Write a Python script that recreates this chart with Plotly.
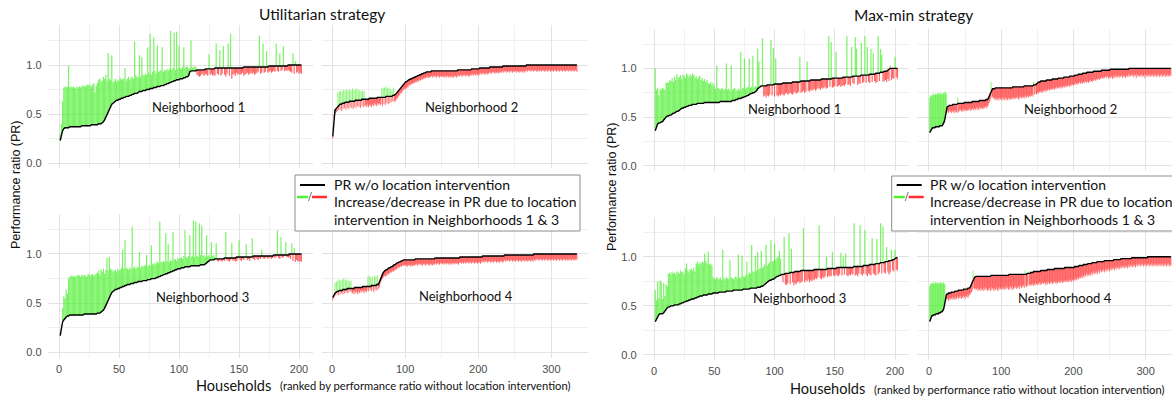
import plotly.graph_objects as go

W, H = 1172, 398

# ---------------- data: performance ratio (x100) ----------------
# Utilitarian strategy
U1_BASE = [23,30,33,35,36,36,36,36,37,37,
 37,37,37,37,37,37,37,37,38,38,
 38,38,38,38,38,38,39,39,39,39,
 39,39,40,40,40,41,42,44,47,50,
 52,55,58,60,61,62,63,64,64,65,
 65,66,66,67,67,68,68,68,69,69,
 70,70,71,71,71,72,73,73,73,74,
 74,74,75,75,75,76,76,76,77,77,
 77,78,78,78,79,79,79,80,80,81,
 81,82,82,83,83,84,84,85,85,85,
 86,86,86,87,87,88,88,89,93,94,
 94,94,94,94,95,95,95,95,95,95,
 95,96,96,96,96,96,96,96,96,97,
 97,97,97,97,97,97,97,97,97,97,
 97,97,97,97,97,97,97,97,97,97,
 97,97,97,98,98,98,98,98,98,98,
 98,98,98,98,98,98,98,98,98,98,
 98,98,98,98,99,99,99,99,99,99,
 99,99,99,99,99,99,99,99,99,99,
 100,100,100,100,100,100,100,100,100,100,
 100,100]
U1_NEW = [30,40,63,77,78,77,78,99,77,78,
 77,78,77,76,78,77,78,77,79,78,
 79,78,79,80,79,80,78,80,81,72,
 79,82,85,86,83,84,88,86,90,84,
 112,86,85,110,82,84,86,83,85,84,
 87,85,86,86,97,84,86,88,85,87,
 88,86,124,90,88,87,110,88,108,90,
 89,91,90,118,92,132,90,93,128,94,
 91,120,93,94,95,118,93,95,94,96,
 94,96,135,95,97,133,95,134,96,120,
 97,96,98,118,97,99,98,96,97,125,
 98,97,99,98,90,89,88,89,91,90,
 89,91,90,89,111,90,91,89,90,89,
 122,91,90,115,89,91,119,90,88,91,
 122,89,132,86,90,91,89,92,90,91,
 90,91,92,89,90,91,92,90,91,92,
 91,92,90,91,92,93,130,91,92,122,
 92,93,114,92,93,94,92,93,94,93,
 122,94,93,112,94,95,119,94,95,94,
 95,94,93,92,112,91,104,92,93,91,
 92,91]
U2_BASE = [27,40,50,54,55,56,57,58,59,59,
 60,60,60,61,61,61,61,62,62,62,
 62,62,62,63,63,63,63,63,63,63,
 63,64,64,64,64,64,64,64,64,64,
 65,65,65,65,65,65,65,65,65,65,
 66,66,66,66,66,66,66,66,66,66,
 66,67,67,67,67,67,67,67,67,67,
 67,67,67,68,68,68,68,68,68,68,
 68,68,69,69,69,70,70,71,72,73,
 74,75,76,77,78,79,80,81,82,82,
 83,83,84,84,85,85,86,86,86,87,
 87,87,88,88,88,89,89,89,90,90,
 90,91,91,91,92,92,92,92,93,93,
 93,93,93,93,93,94,94,94,94,94,
 94,94,94,94,94,94,94,94,94,94,
 94,94,94,94,94,94,94,94,94,94,
 94,94,94,94,94,94,94,94,94,94,
 94,95,95,95,95,95,95,95,95,95,
 95,95,95,95,95,95,95,95,95,95,
 96,96,96,96,96,96,96,96,96,96,
 96,97,97,97,97,97,97,97,97,97,
 97,97,97,97,97,98,98,98,98,98,
 98,98,98,98,98,98,98,98,98,98,
 98,98,98,99,99,99,99,99,99,99,
 99,99,99,99,99,99,99,99,99,99,
 99,99,99,99,99,99,99,99,99,99,
 99,99,99,99,99,100,100,100,100,100,
 100,100,100,100,100,100,100,100,100,100,
 100,100,100,100,100,100,100,100,100,100,
 100,100,100,100,100,100,100,100,100,100,
 100,100,100,100,100,100,100,100,100,100,
 100,100,100,100,100,100,100,100,100,100,
 100,100,100,100,100,100,100,100,100,100,
 100,100,100,100,100]
U2_NEW = [25,37,46,50,51,52,53,72,54,73,
 54,74,53,73,55,75,56,74,54,75,
 56,74,55,75,57,74,56,76,55,74,
 57,75,56,76,58,74,57,75,56,73,
 58,74,57,73,58,59,57,60,58,57,
 59,60,58,57,60,59,58,61,59,60,
 58,61,59,60,61,59,60,76,58,77,
 60,77,59,78,61,76,60,77,61,75,
 62,74,63,77,62,64,63,65,66,67,
 68,69,70,72,71,73,74,75,76,75,
 77,76,78,77,79,80,79,81,80,81,
 82,81,82,83,82,83,84,83,84,85,
 84,85,86,85,86,87,86,87,88,87,
 88,87,88,87,88,89,88,87,89,88,
 89,88,87,89,88,89,87,88,89,88,
 88,89,87,88,89,87,88,89,88,87,
 89,88,87,89,88,87,89,88,89,87,
 88,89,90,88,89,90,89,88,90,89,
 90,89,88,90,89,90,88,89,90,89,
 90,91,89,90,91,89,90,91,90,89,
 91,90,92,91,90,92,91,92,90,91,
 92,91,90,92,91,93,92,91,93,92,
 93,92,91,93,92,93,91,92,93,92,
 93,92,94,93,92,94,93,94,92,93,
 94,93,92,94,93,94,92,93,94,93,
 94,92,93,94,93,92,94,93,94,92,
 93,94,92,93,94,95,93,94,95,94,
 95,93,94,95,94,93,95,94,95,93,
 94,95,93,94,95,94,93,95,94,95,
 93,94,95,94,93,95,94,95,93,94,
 95,94,93,95,94,95,93,94,95,94,
 93,95,94,95,93,94,95,94,93,95,
 94,95,93,94,95,94,93,95,94,95,
 93,94,95,94,93]
U3_BASE = [17,27,31,33,35,36,37,37,38,38,
 38,38,38,38,38,38,38,38,38,38,
 39,39,39,39,39,39,39,39,39,39,
 39,40,40,40,41,42,43,45,48,51,
 54,57,59,61,62,63,64,64,65,65,
 66,66,67,67,68,68,69,69,69,70,
 70,70,71,71,71,72,72,72,72,73,
 73,73,73,74,74,74,75,75,75,75,
 76,76,77,77,78,78,79,79,80,80,
 81,81,82,82,83,83,84,84,85,85,
 85,86,86,86,87,87,87,87,87,88,
 88,88,88,88,88,88,88,89,89,89,
 89,90,91,92,93,94,94,94,94,95,
 95,95,95,95,95,95,95,96,96,96,
 96,96,96,96,96,96,96,97,97,97,
 97,97,97,97,97,97,97,97,97,97,
 97,98,98,98,98,98,98,98,98,98,
 98,98,98,98,98,98,98,98,99,99,
 99,99,99,99,99,99,99,99,99,99,
 99,100,100,100,100,100,100,100,100,100,
 100,100]
U3_NEW = [18,28,45,57,55,64,60,75,77,78,
 78,77,78,77,78,79,78,77,79,78,
 79,78,77,79,80,78,79,80,78,79,
 80,81,83,79,84,82,85,80,84,96,
 83,97,85,84,82,83,84,82,85,83,
 84,86,104,85,114,86,85,84,86,85,
 128,86,87,85,86,87,102,86,88,87,
 88,89,99,87,89,88,109,90,89,91,
 90,92,91,133,92,91,93,92,121,93,
 110,92,94,93,122,94,95,93,96,95,
 96,97,95,98,124,97,96,98,119,97,
 98,134,97,133,98,97,131,99,129,98,
 99,97,119,98,99,97,112,98,99,97,
 111,93,92,94,93,92,94,93,122,94,
 93,92,94,111,93,94,92,93,95,114,
 94,93,95,94,96,110,94,95,93,96,
 116,95,94,96,95,94,96,95,104,96,
 95,96,97,95,96,97,95,96,97,96,
 97,124,96,95,117,96,97,98,112,97,
 96,97,95,111,93,106,92,94,93,92,
 93,92]
U4_BASE = [56,58,59,60,61,61,62,62,62,63,
 63,63,63,63,64,64,64,64,64,64,
 65,65,65,65,65,65,65,65,65,65,
 66,66,66,66,66,66,66,66,66,66,
 66,67,67,67,67,67,67,67,67,67,
 67,67,67,68,68,68,68,68,68,68,
 69,69,69,70,72,75,77,79,80,81,
 82,83,83,84,84,85,85,86,86,87,
 87,87,88,88,89,89,90,90,91,91,
 92,92,92,93,93,93,94,94,94,94,
 94,94,94,94,94,94,94,94,94,94,
 94,94,94,95,95,95,95,95,95,95,
 95,95,95,95,95,95,95,95,95,95,
 95,95,95,95,95,95,95,95,95,95,
 96,96,96,96,96,96,96,96,96,96,
 96,96,96,96,96,96,96,96,96,96,
 96,96,96,96,96,96,96,96,96,96,
 96,96,96,96,97,97,97,97,97,97,
 97,97,97,97,97,97,97,97,97,97,
 97,97,97,97,97,97,97,97,97,97,
 97,97,97,97,97,98,98,98,98,98,
 98,98,98,98,98,98,98,98,98,98,
 98,98,98,98,98,98,98,98,98,98,
 98,98,98,98,98,99,99,99,99,99,
 99,99,99,99,99,99,99,99,99,99,
 99,99,99,99,99,99,99,99,99,99,
 99,99,99,99,99,99,99,99,99,99,
 99,99,99,99,99,100,100,100,100,100,
 100,100,100,100,100,100,100,100,100,100,
 100,100,100,100,100,100,100,100,100,100,
 100,100,100,100,100,100,100,100,100,100,
 100,100,100,100,100,100,100,100,100,100,
 100,100,100,100,100,100,100,100,100,100,
 100,100,100,100,100]
U4_NEW = [53,55,56,71,58,72,59,73,58,74,
 59,73,60,74,59,75,60,74,61,73,
 60,74,61,72,62,73,61,60,62,59,
 62,60,63,61,59,62,61,60,63,62,
 61,63,62,60,63,62,61,63,77,62,
 78,63,76,62,77,64,61,78,63,77,
 63,78,64,65,67,70,72,74,75,76,
 77,78,77,79,78,80,79,81,80,82,
 81,82,83,82,84,83,85,84,86,85,
 87,86,87,88,87,88,89,88,89,88,
 89,88,87,89,88,89,88,87,89,88,
 88,89,88,89,90,89,88,90,89,90,
 89,90,88,89,90,89,90,88,90,89,
 90,89,88,90,89,90,88,89,90,89,
 90,91,89,90,91,90,89,91,90,91,
 90,89,91,90,91,89,90,91,90,89,
 91,90,89,91,90,91,89,90,91,90,
 91,90,89,91,92,91,90,92,91,90,
 92,91,90,92,91,92,90,91,92,91,
 90,92,91,92,90,91,92,91,90,92,
 91,92,90,91,92,93,92,91,93,92,
 93,92,91,93,92,93,91,92,93,92,
 91,93,92,93,91,92,93,92,91,93,
 92,93,92,91,93,94,93,92,94,93,
 94,93,92,94,93,94,92,93,94,93,
 92,94,93,94,92,93,94,93,92,94,
 93,94,92,93,94,93,92,94,93,94,
 92,93,94,93,92,95,94,93,95,94,
 95,94,93,95,94,95,93,94,95,94,
 93,95,94,95,93,94,95,94,93,95,
 94,95,93,94,95,94,93,95,94,95,
 93,94,95,94,93,95,94,95,93,94,
 95,94,93,95,94,95,93,94,95,94,
 93,95,94,95,94]
# Max-min strategy
M1_BASE = [36,40,43,44,44,45,45,47,49,50,
 51,51,52,52,53,54,54,55,56,56,
 57,58,59,59,60,60,61,61,62,62,
 62,63,63,63,63,64,64,64,64,64,
 64,65,65,65,65,65,65,65,65,65,
 65,65,65,65,66,66,66,66,66,66,
 66,66,66,66,67,67,67,68,68,69,
 69,69,70,70,71,71,72,72,73,74,
 74,75,75,76,77,79,80,81,82,82,
 82,82,82,83,83,83,83,83,83,84,
 84,84,84,84,84,84,85,85,85,85,
 85,85,85,85,86,86,86,86,86,86,
 86,87,87,87,87,87,87,87,87,88,
 88,88,88,88,88,88,88,88,89,89,
 89,89,89,89,89,89,89,90,90,90,
 90,90,90,90,90,90,91,91,91,91,
 91,91,91,91,92,92,92,92,92,92,
 92,93,93,93,93,93,93,93,94,94,
 94,94,94,95,95,95,95,96,96,96,
 97,97,97,98,99,100,100,100,100,100,
 100,100]
M1_NEW = [100,78,80,72,79,78,80,79,78,85,
 86,85,88,87,90,86,92,88,94,90,
 91,93,89,94,92,90,95,93,91,94,
 92,95,93,90,92,89,91,93,88,90,
 87,89,86,88,85,84,86,83,85,82,
 79,103,80,79,78,80,79,78,79,105,
 78,79,77,103,78,79,80,78,77,79,
 78,117,79,80,110,79,80,81,110,80,
 81,113,80,82,81,120,107,82,81,131,
 71,72,70,72,71,73,129,72,121,71,
 110,72,71,73,72,74,73,72,74,75,
 73,74,75,74,73,75,76,74,75,76,
 112,75,76,77,75,76,107,77,76,78,
 77,78,79,77,78,80,79,78,80,79,
 80,81,79,80,133,81,127,80,81,82,
 117,81,82,83,81,82,83,82,84,133,
 83,84,82,122,85,84,132,120,83,85,
 84,126,85,86,133,85,122,86,85,120,
 86,115,87,85,86,133,87,120,114,86,
 87,88,86,89,87,103,88,90,89,112,
 91,89]
M2_BASE = [34,36,38,38,39,39,39,39,40,40,
 40,40,40,40,41,41,41,41,42,43,
 45,48,53,58,60,61,61,62,62,62,
 62,62,63,63,63,63,63,63,63,64,
 64,64,64,64,64,64,64,64,65,65,
 65,65,65,65,65,65,65,65,65,66,
 66,66,66,66,66,66,66,66,66,67,
 67,67,67,67,67,67,67,67,68,68,
 68,69,71,73,75,77,78,79,79,79,
 79,80,80,80,80,80,80,80,80,80,
 80,80,80,80,80,80,80,80,80,80,
 80,80,80,80,80,81,81,81,81,81,
 81,81,81,81,81,81,81,81,81,81,
 81,82,82,82,82,82,82,82,82,82,
 82,82,82,82,83,83,83,83,84,85,
 85,86,86,86,87,87,87,87,87,87,
 87,87,88,88,88,88,88,88,88,88,
 89,89,89,89,89,89,89,89,90,90,
 90,90,90,90,90,90,91,91,91,91,
 91,91,91,91,92,92,92,92,92,92,
 92,93,93,93,93,93,94,94,94,94,
 94,94,95,95,95,95,95,95,96,96,
 96,96,96,96,96,96,96,97,97,97,
 97,97,97,97,97,97,97,97,98,98,
 98,98,98,98,98,98,98,98,98,98,
 99,99,99,99,99,99,99,99,99,99,
 99,99,99,99,99,99,99,99,99,99,
 99,99,99,99,99,99,100,100,100,100,
 100,100,100,100,100,100,100,100,100,100,
 100,100,100,100,100,100,100,100,100,100,
 100,100,100,100,100,100,100,100,100,100,
 100,100,100,100,100,100,100,100,100,100,
 100,100,100,100,100,100,100,100,100,100,
 100,100,100,100,100]
M2_NEW = [70,72,71,73,72,74,73,72,74,73,
 74,73,75,74,73,75,74,73,74,75,
 74,76,75,74,55,56,54,57,55,56,
 54,57,55,56,54,57,55,56,54,70,
 55,57,56,58,56,57,55,58,57,56,
 58,57,56,58,57,59,56,58,57,59,
 58,57,59,58,57,60,58,59,57,60,
 59,58,60,59,58,60,59,61,60,59,
 61,62,64,66,68,86,70,71,69,70,
 68,69,67,70,68,69,67,70,68,69,
 67,70,68,69,67,70,68,69,67,70,
 68,69,68,70,68,69,70,68,70,69,
 70,69,71,68,70,69,71,70,69,71,
 70,71,69,72,70,71,72,70,71,72,
 71,72,73,71,86,73,85,74,73,75,
 74,75,76,75,77,76,75,77,76,78,
 77,76,78,77,79,78,77,79,78,79,
 78,80,79,78,80,79,81,80,79,81,
 80,81,79,82,80,81,82,80,82,81,
 82,81,83,82,81,83,82,84,83,82,
 84,83,85,84,83,85,84,86,85,84,
 86,85,84,86,85,87,86,85,87,86,
 85,87,86,88,87,86,88,87,89,88,
 87,89,88,90,89,88,90,89,91,90,
 89,91,90,92,91,90,92,91,89,91,
 90,92,91,89,92,90,91,93,90,92,
 91,93,90,92,91,93,92,90,93,91,
 92,90,93,91,92,94,91,93,92,94,
 92,93,91,94,92,93,90,94,92,93,
 91,93,92,94,91,93,92,94,90,93,
 92,94,91,93,92,94,91,93,92,94,
 91,93,92,94,91,93,92,94,91,93,
 92,94,91,93,92,94,91,93,92,94,
 91,93,92,94,92]
M3_BASE = [34,37,40,41,42,42,42,43,45,47,
 48,49,49,50,50,50,51,51,51,51,
 52,52,53,53,54,54,55,55,56,56,
 57,57,57,58,58,59,59,60,60,60,
 61,61,61,61,62,62,62,62,63,63,
 63,63,63,64,64,64,64,64,64,65,
 65,65,65,65,65,66,66,66,66,66,
 66,66,66,67,67,67,67,67,67,68,
 68,68,68,68,68,69,69,69,70,70,
 71,72,73,74,75,76,76,77,77,78,
 79,80,80,81,81,82,82,82,83,83,
 83,83,84,84,84,84,85,85,85,85,
 85,86,86,86,86,86,86,86,86,86,
 86,86,87,87,87,87,87,87,87,87,
 87,87,87,88,88,88,88,88,88,88,
 88,89,89,89,89,89,89,89,89,89,
 89,89,89,89,89,90,90,90,90,90,
 90,90,90,91,91,91,91,91,92,92,
 92,92,92,93,93,93,93,94,94,94,
 94,95,95,95,96,96,96,97,97,98,
 99,99]
M3_NEW = [66,56,75,58,76,74,57,73,60,72,
 70,83,84,82,85,83,84,82,85,84,
 83,86,84,85,82,88,93,86,84,87,
 88,86,89,85,93,95,92,94,93,95,
 94,103,96,93,105,92,93,91,79,78,
 77,79,78,77,79,76,107,78,77,79,
 78,77,97,79,78,77,79,80,78,102,
 79,78,101,80,79,81,95,82,84,83,
 112,85,84,101,86,105,87,88,106,89,
 90,92,112,91,93,94,117,95,96,113,
 97,99,100,106,98,82,74,120,72,71,
 73,124,72,108,74,71,73,72,74,75,
 73,74,75,129,74,76,75,77,74,76,
 75,77,76,78,77,79,132,78,77,79,
 78,80,100,79,81,80,80,105,81,80,
 82,81,80,82,104,81,100,82,103,81,
 80,82,81,83,82,134,81,82,80,83,
 132,82,81,83,127,82,80,83,82,81,
 119,83,82,81,118,82,84,134,83,131,
 84,83,110,85,82,84,107,86,85,107,
 87,86]
M4_BASE = [34,37,39,40,40,41,41,41,41,42,
 42,42,42,43,43,43,44,44,45,46,
 49,54,59,61,62,62,63,63,63,63,
 64,64,64,64,64,65,65,65,65,65,
 66,66,66,66,66,66,66,67,67,67,
 67,67,67,68,68,68,69,70,72,74,
 75,77,79,80,80,80,80,80,80,80,
 80,80,80,80,80,80,80,80,80,80,
 80,80,80,80,80,81,81,81,81,81,
 81,81,81,81,81,81,81,81,81,81,
 81,81,81,81,81,81,81,81,81,81,
 82,82,82,82,82,82,82,82,82,82,
 82,82,82,82,82,82,82,82,82,82,
 82,82,82,82,82,83,83,83,83,83,
 84,84,84,84,85,85,85,85,85,85,
 85,85,85,85,86,86,86,86,86,86,
 86,86,86,87,87,87,87,87,87,87,
 87,87,87,88,88,88,88,88,88,88,
 88,88,88,88,88,88,88,89,89,89,
 89,89,89,89,89,89,89,89,89,89,
 89,90,90,90,90,90,90,91,91,91,
 91,91,91,92,92,92,92,92,92,93,
 93,93,93,93,93,94,94,94,94,94,
 94,94,95,95,95,95,95,95,95,95,
 95,95,96,96,96,96,96,96,96,96,
 96,96,96,96,96,97,97,97,97,97,
 97,97,97,97,97,98,98,98,98,98,
 98,98,98,98,98,98,98,98,98,98,
 99,99,99,99,99,99,99,99,99,99,
 99,99,99,99,99,99,99,99,99,99,
 99,99,100,100,100,100,100,100,100,100,
 100,100,100,100,100,100,100,100,100,100,
 100,100,100,100,100,100,100,100,100,100,
 100,100,100,100,100]
M4_NEW = [70,72,73,72,73,74,73,72,74,73,
 73,74,72,73,74,73,74,72,73,74,
 73,72,57,56,58,57,55,58,56,57,
 58,56,59,57,58,56,59,57,58,60,
 57,59,58,60,57,59,58,60,59,57,
 60,59,61,58,60,62,61,63,64,66,
 86,68,67,68,66,67,68,65,67,66,
 68,65,67,66,68,65,67,69,66,68,
 65,67,66,68,65,69,66,68,67,65,
 68,66,69,67,65,68,66,69,67,68,
 66,69,67,68,66,69,67,70,68,66,
 69,67,70,68,66,70,67,69,68,70,
 67,69,68,70,67,69,71,68,70,69,
 71,68,86,70,69,72,70,85,71,72,
 70,72,71,73,70,72,71,74,72,71,
 73,72,74,71,73,72,74,73,72,74,
 73,71,74,72,75,73,72,74,73,75,
 72,74,73,75,74,72,75,73,74,76,
 73,75,74,76,73,75,74,76,75,74,
 76,75,74,77,75,76,74,77,76,75,
 77,76,78,76,77,79,77,78,80,78,
 79,81,78,80,82,79,81,83,80,82,
 81,83,80,82,84,81,83,85,82,84,
 83,85,82,84,86,83,85,87,84,86,
 85,87,84,86,88,85,87,86,88,85,
 87,89,86,88,87,89,86,88,90,87,
 89,88,90,87,89,91,88,90,89,91,
 88,90,89,91,88,90,92,89,91,90,
 92,89,91,90,92,89,91,93,90,92,
 91,93,90,92,91,93,90,92,91,93,
 90,92,91,93,90,92,91,93,90,92,
 91,93,90,92,91,93,90,92,91,93,
 90,92,91,93,90,92,91,93,90,92,
 91,93,90,92,91]

STRATEGIES = ["Utilitarian strategy", "Max-min strategy"]
NEIGHBORHOODS = ["Neighborhood 1", "Neighborhood 2", "Neighborhood 3", "Neighborhood 4"]

# ---------------- layout geometry (pixels) ----------------
GREEN = "rgba(70,238,40,0.72)"
RED = "rgba(255,45,45,0.72)"
GRID = "#E2E2E2"
GRID_MINOR = "#F0F0F0"
TICK_FONT = dict(family="Liberation Sans, Arial", size=11, color="#4D4D4D")
TXT = "Lato, 'Open Sans', sans-serif"

COLS = {
    "UL": dict(px=(47.6, 312.8), rng=[-9.5, 211.5], dt=50, mdt=25, lw=1.2),
    "UR": dict(px=(321.8, 587.9), rng=[-14, 350], dt=100, mdt=50, lw=0.9),
    "ML": dict(px=(642.6, 908.9), rng=[-9.5, 211.5], dt=50, mdt=25, lw=1.2),
    "MR": dict(px=(917.0, 1172.0), rng=[-16.6, 336.5], dt=100, mdt=50, lw=0.9),
}
ROWS = {"UT": (25.3, 168.4), "UB": (214.1, 357.9), "MT": (28.9, 171.1), "MB": (216.9, 360.4)}
YR = [-0.055, 1.405]

PANELS = [
    (U1_BASE, U1_NEW, "UL", "UT", NEIGHBORHOODS[0], (198.3, 106.7)),
    (U2_BASE, U2_NEW, "UR", "UT", NEIGHBORHOODS[1], (471.7, 106.7)),
    (U3_BASE, U3_NEW, "UL", "UB", NEIGHBORHOODS[2], (202.7, 296.7)),
    (U4_BASE, U4_NEW, "UR", "UB", NEIGHBORHOODS[3], (466.0, 296.0)),
    (M1_BASE, M1_NEW, "ML", "MT", NEIGHBORHOODS[0], (794.0, 109.0)),
    (M2_BASE, M2_NEW, "MR", "MT", NEIGHBORHOODS[1], (1070.7, 109.0)),
    (M3_BASE, M3_NEW, "ML", "MB", NEIGHBORHOODS[2], (799.0, 298.3)),
    (M4_BASE, M4_NEW, "MR", "MB", NEIGHBORHOODS[3], (1065.0, 297.7)),
]


def px(x):
    return x / W


def py(y):
    return 1 - y / H


fig = go.Figure()
layout = dict(
    width=W, height=H, margin=dict(l=0, r=0, t=0, b=0),
    paper_bgcolor="white", plot_bgcolor="white", showlegend=False,
)
annotations = []
shapes = []

for k, (base, new, col, row, label, lpos) in enumerate(PANELS, start=1):
    assert len(base) == len(new), (label, len(base), len(new))
    c = COLS[col]
    r0, r1 = ROWS[row]
    xname = "x" if k == 1 else f"x{k}"
    yname = "y" if k == 1 else f"y{k}"
    hh = list(range(1, len(base) + 1))
    b = [v / 100 for v in base]
    n = [v / 100 for v in new]
    gx, gy, rx, ry = [], [], [], []
    for h, bv, nv in zip(hh, b, n):
        if nv > bv:
            gx += [h, h, None]
            gy += [bv, nv, None]
        elif nv < bv:
            rx += [h, h, None]
            ry += [bv, nv, None]
    fig.add_trace(go.Scatter(x=rx, y=ry, mode="lines", line=dict(color=RED, width=c["lw"]),
                             xaxis=xname, yaxis=yname, hoverinfo="skip"))
    fig.add_trace(go.Scatter(x=gx, y=gy, mode="lines", line=dict(color=GREEN, width=c["lw"]),
                             xaxis=xname, yaxis=yname, hoverinfo="skip"))
    fig.add_trace(go.Scatter(x=hh, y=b, mode="lines", line=dict(color="black", width=1.4),
                             xaxis=xname, yaxis=yname, hoverinfo="skip"))
    bottom = row in ("UB", "MB")
    left = col in ("UL", "ML")
    layout["xaxis" if k == 1 else f"xaxis{k}"] = dict(
        domain=[px(c["px"][0]), px(c["px"][1])], range=c["rng"], anchor=yname,
        tick0=0, dtick=c["dt"], showgrid=True, gridcolor=GRID, gridwidth=1,
        minor=dict(tick0=0, dtick=c["mdt"], showgrid=True, gridcolor=GRID_MINOR, gridwidth=1),
        zeroline=False, showline=False, ticks="", showticklabels=bottom,
        tickfont=TICK_FONT, ticklabelstandoff=3, fixedrange=True,
    )
    layout["yaxis" if k == 1 else f"yaxis{k}"] = dict(
        domain=[py(r1), py(r0)], range=YR, anchor=xname,
        tick0=0, dtick=0.5, tickformat=".1f", showgrid=True, gridcolor=GRID, gridwidth=1,
        minor=dict(tick0=0, dtick=0.25, showgrid=True, gridcolor=GRID_MINOR, gridwidth=1),
        zeroline=False, showline=False, ticks="", showticklabels=left,
        tickfont=TICK_FONT, ticklabelstandoff=5, fixedrange=True,
    )
    annotations.append(dict(text=label, x=px(lpos[0]), y=py(lpos[1]), xref="paper", yref="paper",
                            xanchor="center", yanchor="middle", showarrow=False,
                            font=dict(family=TXT, size=13, color="#111111")))

# strategy titles
for text, (xx, yy) in zip(STRATEGIES, [(322, 14), (914, 15)]):
    annotations.append(dict(text=text, x=px(xx), y=py(yy), xref="paper", yref="paper",
                            xanchor="center", yanchor="middle", showarrow=False,
                            font=dict(family=TXT, size=15.5, color="#111111")))

# y-axis titles
for xx, yy in [(15.5, 184.5), (612, 187)]:
    annotations.append(dict(text="Performance ratio (PR)", x=px(xx), y=py(yy), xref="paper", yref="paper",
                            xanchor="center", yanchor="middle", textangle=-90, showarrow=False,
                            font=dict(family="Liberation Sans, Arial", size=12.5, color="#111111")))

# x-axis titles
for hx, sx, yy in [(233.5, 278, 385), (827, 871.7, 388.5)]:
    annotations.append(dict(text="Households", x=px(hx), y=py(yy), xref="paper", yref="paper",
                            xanchor="center", yanchor="middle", showarrow=False,
                            font=dict(family=TXT, size=14.5, color="#111111")))
    annotations.append(dict(text="(ranked by performance ratio without location intervention)",
                            x=px(sx), y=py(yy + 0.5), xref="paper", yref="paper",
                            xanchor="left", yanchor="middle", showarrow=False,
                            font=dict(family=TXT, size=11.2, color="#111111")))

# legend boxes
LEG_TEXT = ["PR w/o location intervention", "Increase/decrease in PR due to location",
            "intervention in Neighborhoods 1 & 3"]
for bx0, bx1, by0, by1, ox in [(295, 580, 175, 231, 0.0), (891.7, 1185, 176, 231, 596.7)]:
    shapes.append(dict(type="rect", xref="paper", yref="paper", x0=px(bx0), x1=px(bx1),
                       y0=py(by1), y1=py(by0), line=dict(color="#8C8C8C", width=1),
                       fillcolor="white", layer="above"))
    shapes.append(dict(type="line", xref="paper", yref="paper", x0=px(300 + ox), x1=px(325 + ox),
                       y0=py(185), y1=py(185), line=dict(color="black", width=2), layer="above"))
    shapes.append(dict(type="line", xref="paper", yref="paper", x0=px(297 + ox), x1=px(308 + ox),
                       y0=py(197), y1=py(197), line=dict(color="rgb(80,240,50)", width=2.5), layer="above"))
    shapes.append(dict(type="line", xref="paper", yref="paper", x0=px(312 + ox), x1=px(327 + ox),
                       y0=py(197), y1=py(197), line=dict(color="rgb(255,45,45)", width=2.5), layer="above"))
    shapes.append(dict(type="line", xref="paper", yref="paper", x0=px(308.5 + ox), x1=px(311.5 + ox),
                       y0=py(201), y1=py(192), line=dict(color="#777777", width=1), layer="above"))
    for t, yy in zip(LEG_TEXT, [185, 201.7, 219.3]):
        annotations.append(dict(text=t, x=px(332 + ox - 0.3), y=py(yy), xref="paper", yref="paper",
                                xanchor="left", yanchor="middle", showarrow=False,
                                font=dict(family=TXT, size=14, color="#111111")))

layout["annotations"] = annotations
layout["shapes"] = shapes
fig.update_layout(**layout)
fig.write_html("out.html")
